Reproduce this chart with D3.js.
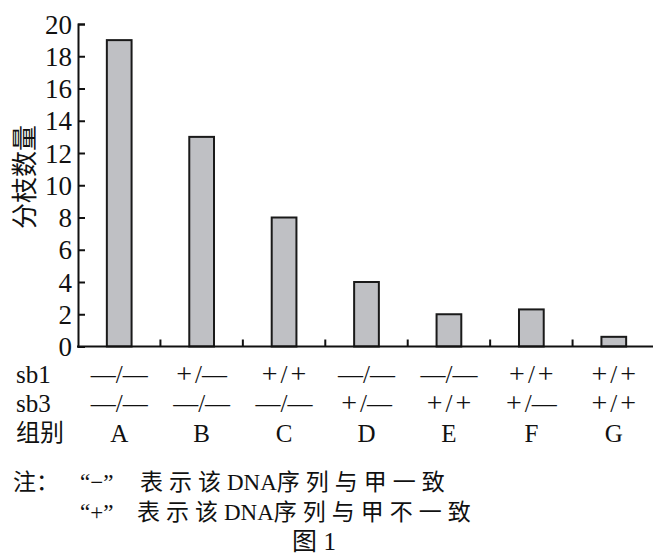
<!DOCTYPE html>
<html><head><meta charset="utf-8">
<script src="https://cdn.jsdelivr.net/npm/d3@7"></script>
<style>body{margin:0;background:#fff}svg{display:block}</style>
</head><body>
<script>
const groups = ["A","B","C","D","E","F","G"];
const values = [19, 13, 8, 4, 2, 2.3, 0.6];
const sb1 = ["−/−","+/−","+/+","−/−","−/−","+/+","+/+"];
const sb3 = ["−/−","−/−","−/−","+/−","+/+","+/−","+/+"];
const yTicks = [0,2,4,6,8,10,12,14,16,18,20];
const yTitle = "分枝数量";
const rowLabels = ["sb1","sb3","组别"];
const noteLine1 = ["注：","“−”","表示该","DNA","序列与甲一致"];
const noteLine2 = ["“+”","表示该","DNA","序列与甲不一致"];
const figCaption = ["图","1"];

const SERIF = '"Liberation Serif","Times New Roman","Noto Sans CJK SC"';
const CJK = '"Noto Sans CJK SC"';
const W=653,H=556;
const svg = d3.select("body").append("svg").attr("width",W).attr("height",H);
const T = (sel, size, fam) => sel.style("font-family", fam||SERIF).style("font-size", size+"px").attr("fill","#111");

const x = d3.scaleBand().domain(groups).range([78,655]).paddingInner(0.7).paddingOuter(0.35);
const y = d3.scaleLinear().domain([0,20]).range([346.5,24]);
const step = x.step();
const cx = d => x(d)+x.bandwidth()/2;

// bars
svg.append("g").selectAll("rect").data(groups).join("rect")
  .attr("x",d=>x(d)).attr("width",x.bandwidth())
  .attr("y",(d,i)=>y(values[i])).attr("height",(d,i)=>y(0)-y(values[i]))
  .attr("fill","#bfc0c4").attr("stroke","#1a1a1a").attr("stroke-width",2);

// y axis
const yAxis = d3.axisLeft(y).tickValues(yTicks).tickSize(-7).tickPadding(6);
const gy = svg.append("g").attr("transform","translate(78,0)").call(yAxis);
gy.select(".domain").attr("stroke","#111").attr("stroke-width",2);
gy.selectAll(".tick line").attr("stroke","#111").attr("stroke-width",2);
gy.selectAll(".tick text").call(T,27).attr("dy","0.34em");

// x axis baseline + boundary ticks
svg.append("line").attr("x1",77).attr("x2",W).attr("y1",y(0)).attr("y2",y(0)).attr("stroke","#111").attr("stroke-width",2);
svg.append("g").selectAll("line").data(groups.slice(1)).join("line")
  .attr("x1",d=>cx(d)-step/2).attr("x2",d=>cx(d)-step/2)
  .attr("y1",y(0)).attr("y2",y(0)-7).attr("stroke","#111").attr("stroke-width",2);

// y title
svg.append("text").attr("transform","translate(34,177) rotate(-90)")
  .attr("text-anchor","middle").call(T,26,CJK).text(yTitle);

// row labels
const rowY=[383,412,442];
rowLabels.forEach((s,i)=>{
  svg.append("text").attr("x",16).attr("y",rowY[i]-(i===2?1:0))
    .call(T, i===2?24:25, i===2?CJK:SERIF).text(s);
});

// sign labels
[sb1,sb3].forEach((arr,r)=>{
  const g = svg.append("g");
  arr.forEach((d,i)=>{
    const t=g.append("text").attr("x",cx(groups[i])).attr("y",rowY[r]).attr("text-anchor","middle").call(T,25);
    [d[0],d[1],d[2]].forEach((ch,k)=>{
      const ts=t.append("tspan");
      if(ch==="−") ts.text("—");
      else if(ch==="+") ts.style("font-size","28px").text("+");
      else ts.text("/");
      if(k>0 && (ch==="+"||d[k-1]==="+")) ts.attr("dx",3);
    });
  });
});
svg.append("g").selectAll("text").data(groups).join("text")
  .attr("x",d=>cx(d)).attr("y",rowY[2])
  .attr("text-anchor","middle").call(T,25).text(d=>d);

// notes
function noteText(xp, yp, parts){
  const t=svg.append("text").attr("x",xp).attr("y",yp).call(T,23);
  parts.forEach(p=>{
    const ts=t.append("tspan").text(p);
    if(/[\u4e00-\u9fff]/.test(p)) ts.style("font-family",CJK).style("letter-spacing","6px");
  });
}
svg.append("text").attr("x",13).attr("y",490).call(T,23,CJK).text(noteLine1[0]);
svg.append("text").attr("x",80).attr("y",490).call(T,23).text(noteLine1[1]);
noteText(140,490,noteLine1.slice(2));
svg.append("text").attr("x",80).attr("y",520).call(T,23).text(noteLine2[0]);
noteText(137,520,noteLine2.slice(1));
const cap=svg.append("text").attr("x",314).attr("y",550).attr("text-anchor","middle").call(T,25);
cap.append("tspan").style("font-family",CJK).text(figCaption[0]);
cap.append("tspan").text(" "+figCaption[1]);
</script>
</body></html>
